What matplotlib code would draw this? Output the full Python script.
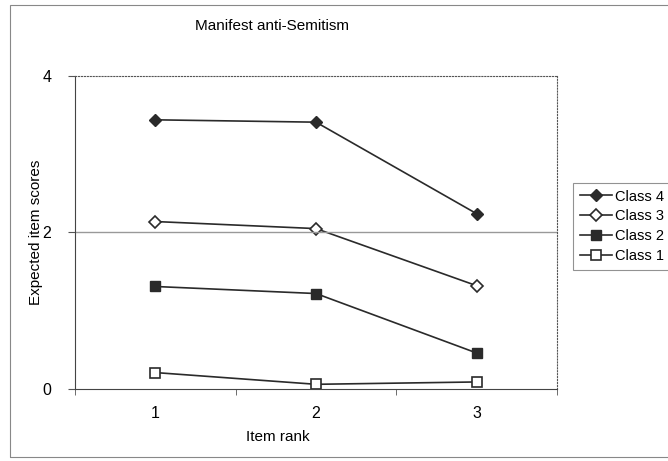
import matplotlib
matplotlib.use("Agg")
from matplotlib import pyplot as plt
from matplotlib.patches import Rectangle

plt.rcParams['font.family'] = ['Liberation Sans', 'DejaVu Sans']

# item ranks and expected item scores per latent class
ranks = [1, 2, 3]
class4 = [3.44, 3.41, 2.24]
class3 = [2.14, 2.05, 1.32]
class2 = [1.31, 1.22, 0.46]
class1 = [0.21, 0.06, 0.09]

fig = plt.figure(figsize=(6.68, 4.61), dpi=100)
ax = fig.add_axes([75/668, 1-389/461, 482/668, 313/461])

col = '#2a2a2a'
ax.plot(ranks, class4, color=col, lw=1.2, marker='D', ms=6, mfc=col, mec=col, label='Class 4')
ax.plot(ranks, class3, color=col, lw=1.2, marker='D', ms=6, mfc='white', mec=col, mew=1.2, label='Class 3')
ax.plot(ranks, class2, color=col, lw=1.2, marker='s', ms=7, mfc=col, mec=col, label='Class 2')
ax.plot(ranks, class1, color=col, lw=1.2, marker='s', ms=7, mfc='white', mec=col, mew=1.2, label='Class 1')

ax.set_xlim(0.5, 3.5)
ax.set_ylim(0, 4)
ax.set_yticks([0, 2, 4])
ax.set_xticks(ranks)
ax.set_xticks([0.5, 1.5, 2.5, 3.5], minor=True)
ax.tick_params(axis='x', which='major', length=0, pad=12, labelsize=11.5)
ax.tick_params(axis='x', which='minor', length=4, direction='out', color='#555555')
ax.tick_params(axis='y', length=5, direction='out', pad=12, labelsize=11.5, color='#555555')
ax.axhline(2, color='#999999', lw=1)

ax.spines['top'].set_linestyle(':')
ax.spines['right'].set_linestyle(':')
ax.spines['top'].set_color('#555555')
ax.spines['right'].set_color('#555555')
ax.spines['left'].set_color('#444444')
ax.spines['bottom'].set_color('#444444')

fig.text(272/668, 1-26/461, 'Manifest anti-Semitism', ha='center', va='center', fontsize=11)
fig.text(278/668, 1-437/461, 'Item rank', ha='center', va='center', fontsize=11)
fig.text(36/668, 1-232/461, 'Expected item scores', ha='center', va='center', rotation=90, fontsize=11)

leg = fig.legend(loc='upper left', bbox_to_anchor=(573/668, 1-183/461), fontsize=10.5,
                 frameon=True, fancybox=False, edgecolor='#777777', handlelength=2.2,
                 handletextpad=0.2, labelspacing=0.4, borderpad=0.45, borderaxespad=0)
leg.get_frame().set_linewidth(0.8)

fig.patches.append(Rectangle((10/668, 1-457/461), 700/668, 452/461, transform=fig.transFigure,
                             fill=False, edgecolor='#888888', lw=0.8))

fig.savefig('out.png', dpi=100)
